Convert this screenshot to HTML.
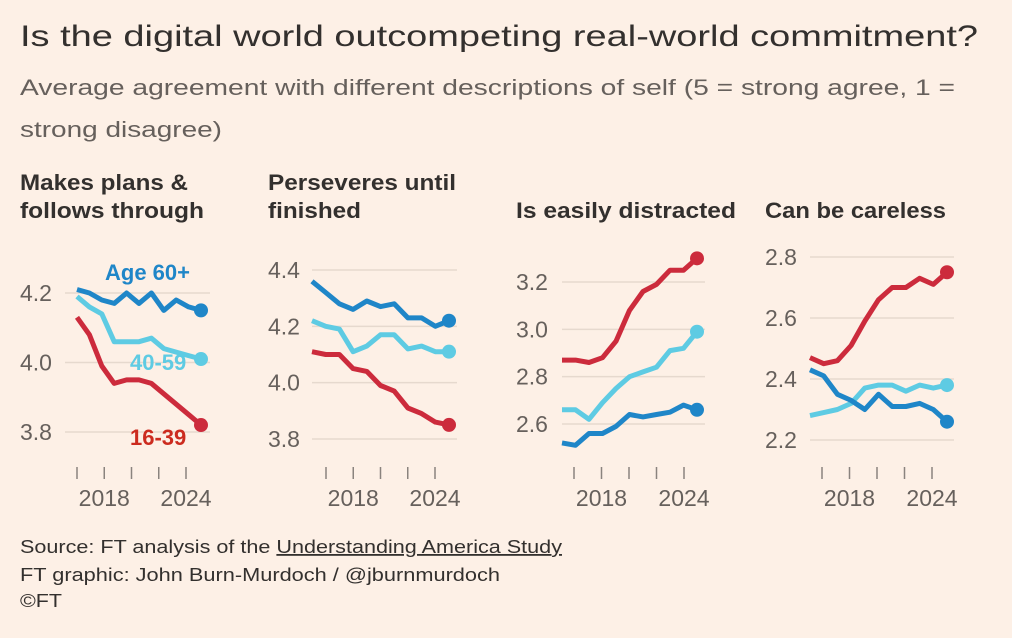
<!DOCTYPE html>
<html><head><meta charset="utf-8">
<style>
html,body{margin:0;padding:0;background:#fdf0e6;}
svg{display:block;font-family:"Liberation Sans",sans-serif;}
</style></head>
<body>
<svg id="chart" width="1012" height="638" viewBox="0 0 1012 638" xmlns="http://www.w3.org/2000/svg">
<rect width="1012" height="638" fill="#fdf0e6"/>
<text x="20" y="46" font-size="30" fill="#33302e" textLength="958" lengthAdjust="spacingAndGlyphs">Is the digital world outcompeting real-world commitment?</text>
<text x="20" y="95" font-size="22" fill="#66605c" textLength="935" lengthAdjust="spacingAndGlyphs">Average agreement with different descriptions of self (5 = strong agree, 1 =</text>
<text x="20" y="137" font-size="22" fill="#66605c" textLength="202" lengthAdjust="spacingAndGlyphs">strong disagree)</text>
<g font-size="22" font-weight="bold" fill="#33302e">
<text x="20" y="190" textLength="168" lengthAdjust="spacingAndGlyphs">Makes plans &amp;</text>
<text x="20" y="218" textLength="184" lengthAdjust="spacingAndGlyphs">follows through</text>
<text x="268" y="190" textLength="188" lengthAdjust="spacingAndGlyphs">Perseveres until</text>
<text x="268" y="218" textLength="93" lengthAdjust="spacingAndGlyphs">finished</text>
<text x="516" y="218" textLength="220" lengthAdjust="spacingAndGlyphs">Is easily distracted</text>
<text x="765" y="218" textLength="181" lengthAdjust="spacingAndGlyphs">Can be careless</text>
</g>
<g font-size="18" fill="#33302e">
<text x="20" y="553" textLength="542" lengthAdjust="spacingAndGlyphs">Source: FT analysis of the <tspan text-decoration="underline">Understanding America Study</tspan></text>
<text x="20" y="581" textLength="480" lengthAdjust="spacingAndGlyphs">FT graphic: John Burn-Murdoch / @jburnmurdoch</text>
<text x="20" y="607" textLength="42" lengthAdjust="spacingAndGlyphs">©FT</text>
</g>
<g id="panels"></g>
</svg>
<script>
const years = [2015,2016,2017,2018,2019,2020,2021,2022,2023,2024,2025];
const tickYears = [2016,2018,2020,2022,2024];
const yearLabels = [2018,2024];
const plansOld = [4.21,4.20,4.18,4.17,4.20,4.17,4.20,4.15,4.18,4.16,4.15];
const plansMid = [4.19,4.16,4.14,4.06,4.06,4.06,4.07,4.04,4.03,4.02,4.01];
const plansYoung = [4.13,4.08,3.99,3.94,3.95,3.95,3.94,3.91,3.88,3.85,3.82];
const perseveresOld = [4.36,4.32,4.28,4.26,4.29,4.27,4.28,4.23,4.23,4.20,4.22];
const perseveresMid = [4.22,4.20,4.19,4.11,4.13,4.17,4.17,4.12,4.13,4.11,4.11];
const perseveresYoung = [4.11,4.10,4.10,4.05,4.04,3.99,3.97,3.91,3.89,3.86,3.85];
const distractedOld = [2.52,2.51,2.56,2.56,2.59,2.64,2.63,2.64,2.65,2.68,2.66];
const distractedMid = [2.66,2.66,2.62,2.69,2.75,2.80,2.82,2.84,2.91,2.92,2.99];
const distractedYoung = [2.87,2.87,2.86,2.88,2.95,3.08,3.16,3.19,3.25,3.25,3.30];
const carelessOld = [2.43,2.41,2.35,2.33,2.30,2.35,2.31,2.31,2.32,2.30,2.26];
const carelessMid = [2.28,2.29,2.30,2.32,2.37,2.38,2.38,2.36,2.38,2.37,2.38];
const carelessYoung = [2.47,2.45,2.46,2.51,2.59,2.66,2.70,2.70,2.73,2.71,2.75];
const plansTicks = [3.8,4.0,4.2];
const perseveresTicks = [3.8,4.0,4.2,4.4];
const distractedTicks = [2.6,2.8,3.0,3.2];
const carelessTicks = [2.2,2.4,2.6,2.8];

const NS = "http://www.w3.org/2000/svg";
const root = document.getElementById('panels');
const COLORS = {old:'#1f86c8', mid:'#5ecbe3', young:'#cc2b3c'};
function mk(tag, attrs, parent){
  const e = document.createElementNS(NS, tag);
  for (const k in attrs) e.setAttribute(k, attrs[k]);
  (parent||root).appendChild(e);
  return e;
}
const panels = [
  {key:'plans', x0:77, x1:201, va:4.2, ya:293, vb:3.8, yb:432, gl:65, gr:210, lx:20, ticks:plansTicks, series:[plansOld,plansMid,plansYoung], tx0:77, tx1:186},
  {key:'perseveres', x0:312, x1:449, va:4.4, ya:270, vb:3.8, yb:439, gl:312, gr:457, lx:268, ticks:perseveresTicks, series:[perseveresOld,perseveresMid,perseveresYoung], tx0:326, tx1:435},
  {key:'distracted', x0:562, x1:697, va:3.2, ya:282, vb:2.6, yb:424, gl:562, gr:705, lx:516, ticks:distractedTicks, series:[distractedOld,distractedMid,distractedYoung], tx0:574, tx1:684},
  {key:'careless', x0:810, x1:947, va:2.8, ya:257, vb:2.2, yb:440, gl:810, gr:954, lx:765, ticks:carelessTicks, series:[carelessOld,carelessMid,carelessYoung], tx0:822, tx1:932}
];
const names = ['old','mid','young'];
panels.forEach(p=>{
  const g = mk('g',{});
  
  
  const xs = y => p.x0 + (y - years[0])/(years[years.length-1]-years[0])*(p.x1-p.x0);
  const xt = y => p.tx0 + (y - tickYears[0])/(tickYears[tickYears.length-1]-tickYears[0])*(p.tx1-p.tx0);
  const ys = v => p.ya + (v - p.va)/(p.vb - p.va)*(p.yb-p.ya);
  p.ticks.forEach(t=>{
    const l = mk('line',{x1:p.gl,x2:p.gr,y1:ys(t),y2:ys(t),stroke:'#e6d9ce','stroke-width':1.5},g);
    
    
    const tx = mk('text',{x:p.lx,y:ys(t)+8,'font-size':23,fill:'#66605c'},g);
    tx.textContent = t.toFixed(1);
    
    
  });
  tickYears.forEach(yr=>{
    const l = mk('line',{x1:xt(yr),x2:xt(yr),y1:467,y2:479,stroke:'#8a837e','stroke-width':1.5},g);
    
    
  });
  yearLabels.forEach(yr=>{
    const tx = mk('text',{x:xt(yr),y:506,'font-size':23,fill:'#66605c','text-anchor':'middle'},g);
    tx.textContent = yr;
    
    
  });
  [2,1,0].forEach(i=>{
    const s = p.series[i];
    const d = s.map((v,j)=>(j?'L':'M')+xs(years[j]).toFixed(1)+','+ys(v).toFixed(1)).join(' ');
    const path = mk('path',{d:d,fill:'none',stroke:COLORS[names[i]],'stroke-width':5,'stroke-linejoin':'round'},g);
    
    
    const c = mk('circle',{cx:xs(years[years.length-1]),cy:ys(s[s.length-1]),r:7,fill:COLORS[names[i]]},g);
    
    
  });
});
const labels = [['Age 60+',105,280,COLORS.old],['40-59',130,370,COLORS.mid],['16-39',130,445,'#cc2b1f']];
labels.forEach(([t,x,y,c])=>{
  const tx = mk('text',{x:x,y:y,'font-size':22,'font-weight':'bold',fill:c});
  tx.textContent = t;
  
  
});
</script>
</body></html>
